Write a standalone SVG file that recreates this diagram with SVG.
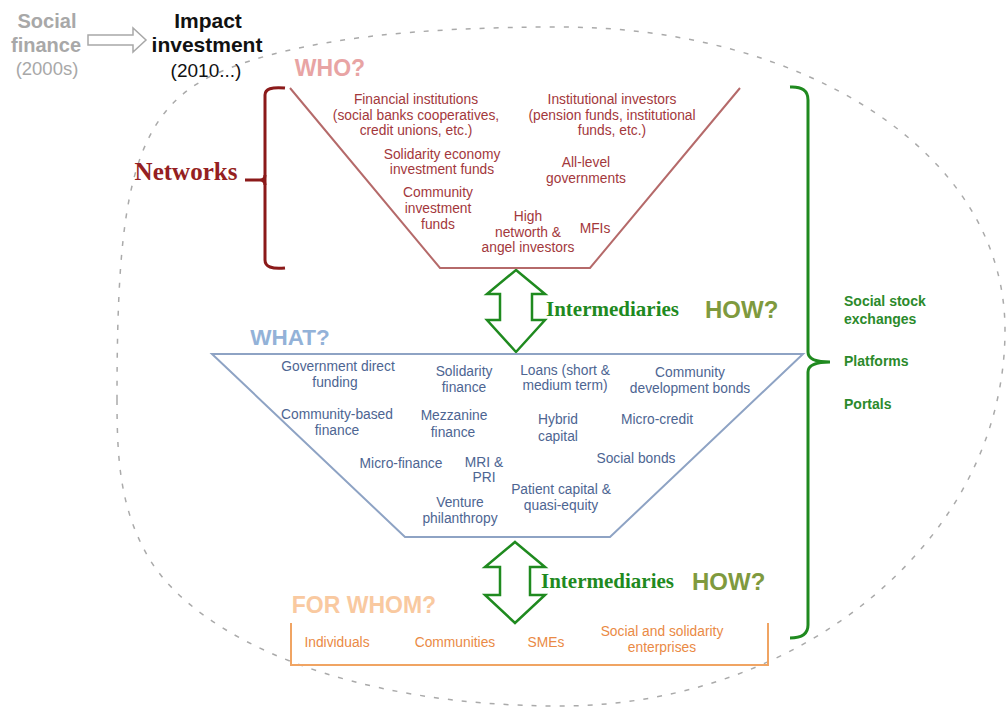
<svg xmlns="http://www.w3.org/2000/svg" width="1008" height="715" viewBox="0 0 1008 715">
<style>
.sans{font-family:"Liberation Sans",Arial,sans-serif}
.serif{font-family:"Liberation Serif","Times New Roman",serif}
.who{fill:#a3383c;font-size:13.8px;text-anchor:middle}
.what{fill:#4d6592;font-size:13.8px;text-anchor:middle}
.whom{fill:#ea8a45;font-size:13.8px;text-anchor:middle}
.how{fill:#2b8a2b;font-size:14px;font-weight:bold}
.inter{fill:#1f8a1f;font-size:21px;font-weight:bold}
.howq{fill:#7f9a3e;font-size:24px;font-weight:bold}
.arrow{fill:#fff;stroke:#1f8a1f;stroke-width:2.5;stroke-linejoin:miter}
</style>
<rect width="1008" height="715" fill="#fff"/>
<path d="M117,400 C117,200 130,110 220,72 C300,38 420,27 560,27 C800,27 1005,150 1005,330 C1005,540 800,706 560,706 C350,706 200,640 150,560 C120,510 117,460 117,400 Z" fill="none" stroke="#aaaaaa" stroke-width="1.5" stroke-dasharray="5 9"/>

<g id="social-finance">
<text class="sans" x="47" y="28" font-size="20" font-weight="bold" fill="#a8a8a8" text-anchor="middle">Social</text>
<text class="sans" x="46" y="52" font-size="20" font-weight="bold" fill="#a8a8a8" text-anchor="middle">finance</text>
<text class="sans" x="47" y="75" font-size="18.5" fill="#a8a8a8" text-anchor="middle">(2000s)</text>
</g>
<g id="impact-investment">
<text class="sans" x="208" y="28" font-size="21" font-weight="bold" fill="#111" text-anchor="middle">Impact</text>
<text class="sans" x="207" y="52" font-size="21" font-weight="bold" fill="#111" text-anchor="middle">investment</text>
<text class="sans" x="206" y="77" font-size="19" fill="#111" text-anchor="middle">(2010...)</text>
</g>

<g id="connectors">
<path d="M88,35 L133,35 L133,28 L146,40 L133,52 L133,45 L88,45 Z" fill="#fff" stroke="#a8a8a8" stroke-width="1.5"/>
<path class="arrow" d="M516,270 L545,294 L532,294 L532,320 L545,320 L516,352 L487,320 L500,320 L500,294 L487,294 Z"/>
<path class="arrow" d="M515,542 L545,567 L530,567 L530,595 L545,595 L515,623 L485,595 L500,595 L500,567 L485,567 Z"/>
</g>

<g id="networks">
<path d="M285,88 Q265,86 265,95 L265,260 Q265,270 285,268" fill="none" stroke="#8b1a1a" stroke-width="3"/>
<path d="M245,180 L260,180 Q265,180 265,175 M260,180 Q265,180 265,185" fill="none" stroke="#8b1a1a" stroke-width="3"/>
<text class="serif" x="186" y="180" font-size="25" font-weight="bold" fill="#951f22" text-anchor="middle">Networks</text>
</g>

<g id="who">
<text class="sans" x="330" y="76" font-size="23" font-weight="bold" fill="#e8a4a4" text-anchor="middle">WHO?</text>
<path d="M290,88 L440,268 L590,268 L740,88" fill="none" stroke="#b56a6a" stroke-width="2"/>
<g class="sans who">
<text x="416" y="104">Financial institutions</text>
<text x="416" y="120">(social banks cooperatives,</text>
<text x="416" y="135">credit unions, etc.)</text>
<text x="612" y="104">Institutional investors</text>
<text x="612" y="120">(pension funds, institutional</text>
<text x="612" y="135">funds, etc.)</text>
<text x="442" y="159">Solidarity economy</text>
<text x="442" y="174">investment funds</text>
<text x="586" y="167">All-level</text>
<text x="586" y="183">governments</text>
<text x="438" y="197">Community</text>
<text x="438" y="213">investment</text>
<text x="438" y="229">funds</text>
<text x="528" y="221">High</text>
<text x="528" y="237">networth &amp;</text>
<text x="528" y="252">angel investors</text>
<text x="595" y="233">MFIs</text>
</g>
</g>

<g id="intermediaries-1">
<text class="serif inter" x="546" y="316">Intermediaries</text>
<text class="sans howq" x="705" y="318">HOW?</text>
</g>

<g id="what">
<text class="sans" x="290" y="345" font-size="22.5" font-weight="bold" fill="#93b2d8" text-anchor="middle">WHAT?</text>
<path d="M212,354 L803,354 L610,537 L405,537 Z" fill="none" stroke="#8ea3c4" stroke-width="2"/>
<g class="sans what">
<text x="338" y="371">Government direct</text>
<text x="335" y="387">funding</text>
<text x="464" y="376">Solidarity</text>
<text x="464" y="392">finance</text>
<text x="565" y="375">Loans (short &amp;</text>
<text x="565" y="390">medium term)</text>
<text x="690" y="377">Community</text>
<text x="690" y="393">development bonds</text>
<text x="337" y="419">Community-based</text>
<text x="337" y="435">finance</text>
<text x="454" y="420">Mezzanine</text>
<text x="453" y="437">finance</text>
<text x="558" y="424">Hybrid</text>
<text x="558" y="441">capital</text>
<text x="657" y="424">Micro-credit</text>
<text x="401" y="468">Micro-finance</text>
<text x="484" y="467">MRI &amp;</text>
<text x="484" y="482">PRI</text>
<text x="636" y="463">Social bonds</text>
<text x="561" y="494">Patient capital &amp;</text>
<text x="561" y="510">quasi-equity</text>
<text x="460" y="507">Venture</text>
<text x="460" y="523">philanthropy</text>
</g>
</g>

<g id="intermediaries-2">
<text class="serif inter" x="541" y="588">Intermediaries</text>
<text class="sans howq" x="692" y="590">HOW?</text>
</g>

<g id="for-whom">
<text class="sans" x="364" y="613" font-size="23" font-weight="bold" fill="#f9c9a0" text-anchor="middle">FOR WHOM?</text>
<path d="M291,623 L291,665 L768,665 L768,623" fill="none" stroke="#f0a463" stroke-width="2"/>
<g class="sans whom">
<text x="337" y="647">Individuals</text>
<text x="455" y="647">Communities</text>
<text x="546" y="647">SMEs</text>
<text x="662" y="636">Social and solidarity</text>
<text x="662" y="652">enterprises</text>
</g>
</g>

<g id="how-channels">
<path d="M790,87 Q808,86 808,100 L808,352 Q808,362 830,362 Q808,362 808,372 L808,625 Q808,638 790,638" fill="none" stroke="#1f8a1f" stroke-width="3"/>
<g class="sans how">
<text x="844" y="306">Social stock</text>
<text x="844" y="324">exchanges</text>
<text x="844" y="366">Platforms</text>
<text x="844" y="409">Portals</text>
</g>
</g>
</svg>
